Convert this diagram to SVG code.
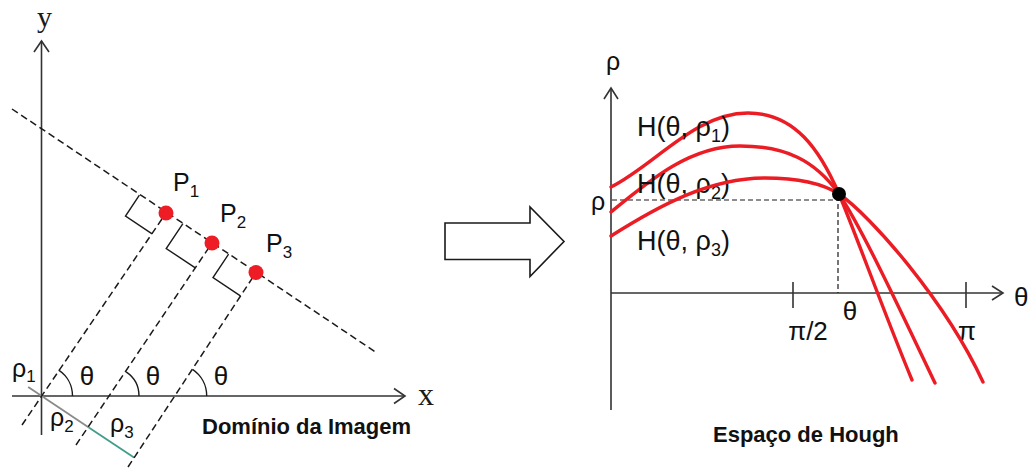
<svg xmlns="http://www.w3.org/2000/svg" width="1028" height="470" viewBox="0 0 1028 470">
<style>
.ax{stroke:#333;stroke-width:1.6;fill:none}
.ah{stroke:#333;stroke-width:1.6;fill:none;stroke-linejoin:miter}
.dash{stroke:#1a1a1a;stroke-width:1.5;stroke-dasharray:7 4;fill:none}
.dash2{stroke:#1a1a1a;stroke-width:1.2;stroke-dasharray:5 3;fill:none}
.mk{stroke:#1a1a1a;stroke-width:1.4;fill:none}
.arc{stroke:#1a1a1a;stroke-width:1.4;fill:none}
.pt{fill:#ee1c25}
.cv{stroke:#ec1c24;stroke-width:3.4;fill:none;stroke-linecap:round}
.t{font-family:"Liberation Sans",Arial,sans-serif;fill:#111}
.s{font-family:"Liberation Serif","Times New Roman",serif;fill:#1a1a1a}
.b{font-family:"Liberation Sans",Arial,sans-serif;font-weight:bold;fill:#111;font-size:22px}
</style>
<rect width="1028" height="470" fill="#ffffff"/>

<!-- LEFT: image domain -->
<g id="image-axes">
<line class="ax" x1="41.5" y1="41" x2="41.5" y2="435"/>
<polyline class="ah" points="34,52 41.5,41 49,52"/>
<line class="ax" x1="12" y1="396" x2="404" y2="396"/>
<polyline class="ah" points="394,388.5 405,396 394,403.5"/>
<text class="s" x="37" y="27" font-size="30">y</text>
<text class="s" x="418" y="405" font-size="32">x</text>
</g>

<g id="rho-segments">
<line x1="28.2" y1="387.1" x2="88.8" y2="427.6" stroke="#8a8a8a" stroke-width="1.8"/>
<line x1="88.8" y1="427.6" x2="134" y2="457.5" stroke="#3f9e8c" stroke-width="1.8"/>
</g>

<g id="connectors">
<line class="dash" x1="12" y1="109" x2="377" y2="353"/>
<line class="dash" x1="22" y1="425" x2="166" y2="213"/>
<line class="dash" x1="76" y1="445" x2="212" y2="243"/>
<line class="dash" x1="128" y1="467" x2="256" y2="272.5"/>
</g>

<g id="right-angle-markers">
<polyline class="mk" points="139.4,195.2 125.5,216 152.1,233.8"/>
<polyline class="mk" points="182.9,223.6 166.2,248.5 195.3,267.9"/>
<polyline class="mk" points="228.6,254.2 213,277.5 240.4,295.8"/>
</g>

<g id="angle-arcs">
<path class="arc" d="M72.5,396 A31,31 0 0 0 58.7,370.2"/>
<path class="arc" d="M139,396 A29,29 0 0 0 126.1,371.9"/>
<path class="arc" d="M206.7,396 A32,32 0 0 0 192.5,369.4"/>
</g>

<g id="P1"><circle class="pt" cx="166" cy="213" r="7.5"/>
<text class="t" x="173" y="191" font-size="25">P<tspan font-size="17" dy="6">1</tspan></text></g>
<g id="P2"><circle class="pt" cx="212" cy="243" r="7.5"/>
<text class="t" x="220" y="222" font-size="25">P<tspan font-size="17" dy="6">2</tspan></text></g>
<g id="P3"><circle class="pt" cx="256" cy="272.5" r="7.5"/>
<text class="t" x="266" y="252" font-size="25">P<tspan font-size="17" dy="6">3</tspan></text></g>

<g id="left-labels">
<text class="t" x="12" y="377" font-size="25">ρ<tspan font-size="17" dy="5">1</tspan></text>
<text class="t" x="50" y="426" font-size="25">ρ<tspan font-size="17" dy="6">2</tspan></text>
<text class="t" x="110" y="432" font-size="25">ρ<tspan font-size="17" dy="6">3</tspan></text>
<text class="t" x="87" y="385" font-size="26" text-anchor="middle">θ</text>
<text class="t" x="153" y="385" font-size="26" text-anchor="middle">θ</text>
<text class="t" x="221" y="385" font-size="26" text-anchor="middle">θ</text>
<text class="b" x="202" y="434">Domínio da Imagem</text>
</g>

<!-- transform arrow -->
<g id="transform-arrow">
<polygon points="445,223 530,223 530,207 564,241.5 530,276.5 530,259.5 445,259.5" fill="#fff" stroke="#1a1a1a" stroke-width="1.6" stroke-linejoin="miter"/>
</g>

<!-- RIGHT: Hough space -->
<g id="hough-axes">
<line class="ax" x1="611" y1="89" x2="611" y2="410" stroke="#222"/>
<polyline class="ah" points="604,99 611,88 618,99"/>
<line class="ax" x1="611" y1="293" x2="1002" y2="293"/>
<polyline class="ah" points="992,286 1003,293 992,300"/>
<line class="ax" x1="793" y1="282" x2="793" y2="308"/>
<line class="ax" x1="966" y1="282" x2="966" y2="308"/>
<text class="t" x="613" y="70" font-size="25" text-anchor="middle">ρ</text>
<text class="t" x="1014" y="306" font-size="26">θ</text>
<text class="t" x="808" y="340" font-size="26" text-anchor="middle">π/2</text>
<text class="t" x="967" y="340" font-size="26" text-anchor="middle">π</text>
</g>

<g id="hough-guides">
<line class="dash2" x1="612" y1="200" x2="838" y2="200"/>
<line class="dash2" x1="838" y1="196" x2="838" y2="293"/>
<text class="t" x="598" y="210" font-size="25" text-anchor="middle">ρ</text>
<text class="t" x="850" y="320" font-size="26" text-anchor="middle">θ</text>
</g>

<g id="H1">
<path class="cv" d="M611,187 C655,165 695,113 748,113 C795,113 820,150 839,194 C855,232 885,315 912,380"/>
<text class="t" x="637" y="136" font-size="27">H(θ, ρ<tspan font-size="18" dy="6">1</tspan><tspan dy="-6">)</tspan></text>
</g>
<g id="H2">
<path class="cv" d="M611,212 C650,180 690,146 740,146 C785,146 815,160 839,194 C862,228 905,320 935,383"/>
<text class="t" x="637" y="193" font-size="27">H(θ, ρ<tspan font-size="18" dy="6">2</tspan><tspan dy="-6">)</tspan></text>
</g>
<g id="H3">
<path class="cv" d="M611,236 C660,205 710,178 765,178 C800,178 825,185 839,194 C870,215 945,300 983,382"/>
<text class="t" x="637" y="250" font-size="27">H(θ, ρ<tspan font-size="18" dy="6">3</tspan><tspan dy="-6">)</tspan></text>
</g>

<g id="intersection"><circle cx="839" cy="194" r="7" fill="#000"/></g>
<text class="b" x="713" y="442">Espaço de Hough</text>
</svg>
